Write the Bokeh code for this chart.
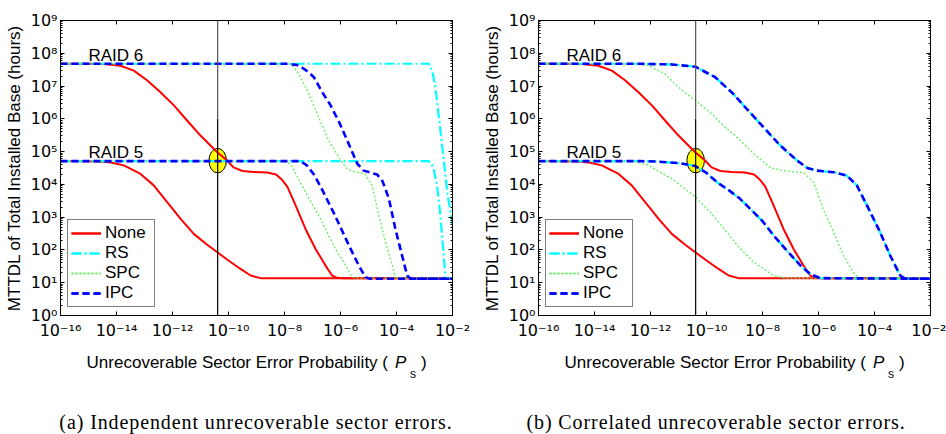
import numpy as np
from bokeh.plotting import figure
from bokeh.models import (Range1d, FixedTicker, LogAxis, Label, Legend,
                          LegendItem, CustomJSTickFormatter, Div)
from bokeh.layouts import row, column
from bokeh.embed import file_html
from bokeh.resources import INLINE

SANS = "Liberation Sans"
SERIF = "Liberation Serif"
TICK_FONT = "DejaVu Sans"

# ---- axes: decades ----
x_tick_powers = [-16, -14, -12, -10, -8, -6, -4, -2]
x_tick_labels = ["10\u207b\u00b9\u2076", "10\u207b\u00b9\u2074", "10\u207b\u00b9\u00b2",
                 "10\u207b\u00b9\u2070", "10\u207b\u2078", "10\u207b\u2076",
                 "10\u207b\u2074", "10\u207b\u00b2"]
y_tick_powers = [0, 1, 2, 3, 4, 5, 6, 7, 8, 9]
y_tick_labels = ["10\u2070", "10\u00b9", "10\u00b2", "10\u00b3", "10\u2074",
                 "10\u2075", "10\u2076", "10\u2077", "10\u2078", "10\u2079"]
x_limits = (1e-16, 1e-2)
y_limits = (1e0, 1e9)

# ---- operating point marked on both panels ----
ps_marked = 4.1e-11
mttdl_marked = 5.3e4

# ---- curves: log10(Ps) and log10(MTTDL in hours) ----
# no intra-disk redundancy (same in both panels)
none_r6_lp = [-16, -15.0, -14.45, -13.86, -13.38, -12.9, -12.43, -11.95, -11.48, -11.0,
              -10.52, -10.4, -10.05, -9.82, -9.5, -9.1, -8.62, -8.3, -8.1, -7.9, -7.65,
              -7.25, -6.89, -6.54, -6.3, -6.12, -5.9, -2]
none_r6_lm = [7.68, 7.68, 7.67, 7.62, 7.47, 7.17, 6.81, 6.41, 5.95, 5.49,
              5.08, 4.98, 4.73, 4.52, 4.41, 4.38, 4.36, 4.30, 4.15, 3.93, 3.45,
              2.64, 2.03, 1.53, 1.22, 1.15, 1.14, 1.14]
none_r5_lp = [-16, -14.6, -14.2, -13.74, -13.14, -12.67, -12.19, -11.71, -11.24, -10.76,
              -10.4, -10.05, -9.57, -9.21, -8.86, -2]
none_r5_lm = [4.71, 4.70, 4.67, 4.58, 4.32, 3.97, 3.46, 2.95, 2.49, 2.16,
              1.93, 1.71, 1.42, 1.22, 1.14, 1.14]

# (a) independent sector errors
rs_ind_r6_lp = [-16, -2.84, -2.72, -2.61, -2.52, -2.43, -2.31, -2.18, -2.0]
rs_ind_r6_lm = [7.68, 7.68, 7.45, 6.96, 6.30, 5.64, 4.73, 3.70, 2.80]
rs_ind_r5_lp = [-16, -2.86, -2.75, -2.67, -2.55, -2.45, -2.35, -2.25, -2.0]
rs_ind_r5_lm = [4.71, 4.71, 4.65, 4.45, 3.95, 3.20, 2.20, 1.14, 1.14]

spc_ind_r6_lp = [-16, -7.84, -7.7, -7.49, -7.13, -6.78, -6.42, -6.06, -5.82, -5.6, -5.3,
                 -5.11, -4.87, -4.63, -4.39, -4.15, -4.04, -3.9, -2]
spc_ind_r6_lm = [7.68, 7.68, 7.60, 7.37, 6.76, 6.05, 5.34, 4.83, 4.52, 4.40, 4.36,
                 4.30, 3.97, 3.05, 2.24, 1.53, 1.17, 1.14, 1.14]
spc_ind_r5_lp = [-16, -7.95, -7.73, -7.25, -6.65, -6.18, -5.82, -5.58, -5.45, -2]
spc_ind_r5_lm = [4.71, 4.71, 4.55, 3.76, 2.85, 2.03, 1.53, 1.17, 1.14, 1.14]

ipc_ind_r6_lp = [-16, -7.84, -7.49, -7.13, -6.95, -6.65, -6.36, -6.05, -5.76, -5.40, -5.17,
                 -4.9, -4.69, -4.5, -4.27, -4.04, -3.80, -3.62, -3.5, -2]
ipc_ind_r6_lm = [7.68, 7.68, 7.63, 7.42, 7.27, 6.81, 6.42, 5.90, 5.34, 4.63, 4.42,
                 4.35, 4.30, 4.10, 3.56, 2.64, 1.83, 1.22, 1.12, 1.12]
ipc_ind_r5_lp = [-16, -7.43, -7.2, -6.95, -6.68, -6.2, -5.70, -5.35, -5.11, -4.95, -2]
ipc_ind_r5_lm = [4.71, 4.71, 4.58, 4.30, 3.88, 3.06, 2.14, 1.53, 1.17, 1.12, 1.12]

# (b) correlated sector errors (RS and IPC coincide)
rs_cor_r6_lp = [-16, -12.43, -11.24, -10.4, -9.69, -9.04, -8.56, -7.96, -7.37, -6.77, -6.4,
                -6.06, -5.46, -4.99, -4.63, -4.27, -3.80, -3.44, -3.08, -2.9, -2]
rs_cor_r6_lm = [7.68, 7.68, 7.66, 7.59, 7.27, 6.76, 6.30, 5.74, 5.19, 4.73, 4.50,
                4.42, 4.37, 4.27, 3.97, 3.36, 2.54, 1.83, 1.22, 1.12, 1.12]
rs_cor_r5_lp = [-16, -12.4, -11.83, -11.0, -10.4, -10.0, -9.6, -9.2, -8.8, -8.4, -8.0,
                -7.6, -7.13, -6.65, -6.3, -5.94, -2]
rs_cor_r5_lm = [4.71, 4.71, 4.70, 4.65, 4.56, 4.35, 4.05, 3.82, 3.56, 3.22, 2.88,
                2.44, 1.98, 1.53, 1.27, 1.14, 1.12]
ipc_cor_r6_lp, ipc_cor_r6_lm = rs_cor_r6_lp, rs_cor_r6_lm
ipc_cor_r5_lp, ipc_cor_r5_lm = rs_cor_r5_lp, rs_cor_r5_lm

spc_cor_r6_lp = [-16, -12.6, -12.07, -11.48, -11.0, -10.4, -9.81, -9.33, -8.88, -8.31,
                 -7.71, -7.12, -6.53, -6.17, -5.81, -5.46, -5.11, -4.75, -4.57, -2]
spc_cor_r6_lm = [7.68, 7.68, 7.63, 7.37, 6.96, 6.56, 6.15, 5.74, 5.42, 4.93,
                 4.50, 4.40, 4.36, 4.05, 3.20, 2.54, 1.83, 1.32, 1.14, 1.14]
spc_cor_r5_lp = [-16, -12.6, -12.07, -11.24, -10.4, -9.81, -9.33, -8.86, -8.32, -7.61, -7.2, -2]
spc_cor_r5_lm = [4.71, 4.71, 4.58, 4.17, 3.62, 3.10, 2.60, 2.10, 1.63, 1.22, 1.14, 1.14]

series_names = ["None", "RS", "SPC", "IPC"]
line_styles = {
    "None": dict(line_color="#ff0000", line_width=2.0),
    "RS": dict(line_color="#00ffff", line_width=2.2, line_dash="10 3 2 3"),
    "SPC": dict(line_color="#5ef05e", line_width=1.3, line_dash="2 2"),
    "IPC": dict(line_color="#0000ff", line_width=2.6, line_dash="7 4"),
}

panel_a = {
    "None": [(none_r6_lp, none_r6_lm), (none_r5_lp, none_r5_lm)],
    "RS": [(rs_ind_r6_lp, rs_ind_r6_lm), (rs_ind_r5_lp, rs_ind_r5_lm)],
    "SPC": [(spc_ind_r6_lp, spc_ind_r6_lm), (spc_ind_r5_lp, spc_ind_r5_lm)],
    "IPC": [(ipc_ind_r6_lp, ipc_ind_r6_lm), (ipc_ind_r5_lp, ipc_ind_r5_lm)],
}
panel_b = {
    "None": [(none_r6_lp, none_r6_lm), (none_r5_lp, none_r5_lm)],
    "RS": [(rs_cor_r6_lp, rs_cor_r6_lm), (rs_cor_r5_lp, rs_cor_r5_lm)],
    "SPC": [(spc_cor_r6_lp, spc_cor_r6_lm), (spc_cor_r5_lp, spc_cor_r5_lm)],
    "IPC": [(ipc_cor_r6_lp, ipc_cor_r6_lm), (ipc_cor_r5_lp, ipc_cor_r5_lm)],
}

FIG_W = 473
FIG_H = 345
TEXT_H = 434 - FIG_H

LABEL_JS = """
const k = Math.round(Math.log10(tick));
const i = powers.indexOf(k);
return i >= 0 ? labels[i] : "";
"""


def style_axis(ax, ticker, powers=None, labels=None):
    ax.ticker = ticker
    if labels is None:
        ax.formatter = CustomJSTickFormatter(code="return ''")
        ax.major_label_text_font_size = "0px"
    else:
        ax.formatter = CustomJSTickFormatter(args=dict(powers=powers, labels=labels),
                                             code=LABEL_JS)
        ax.major_label_text_font = TICK_FONT
        ax.major_label_text_font_size = "16px"
        ax.major_label_text_color = "black"
    ax.major_tick_in = 4
    ax.major_tick_out = 0
    ax.minor_tick_in = 2
    ax.minor_tick_out = 0
    ax.axis_line_color = "black"
    ax.major_tick_line_color = "black"
    ax.minor_tick_line_color = "black"


def make_panel(curves, border_left, border_right):
    p = figure(width=FIG_W, height=FIG_H, x_axis_type="log", y_axis_type="log",
               x_range=Range1d(*x_limits), y_range=Range1d(*y_limits),
               output_backend="svg", toolbar_location=None,
               min_border_left=border_left, min_border_right=border_right,
               min_border_top=20, min_border_bottom=FIG_H - 315)
    p.grid.visible = False
    p.outline_line_color = "black"
    p.outline_line_width = 1

    xticker = FixedTicker(ticks=[10.0 ** k for k in x_tick_powers], minor_ticks=[])
    yticker = FixedTicker(ticks=[10.0 ** k for k in y_tick_powers],
                          minor_ticks=[m * 10.0 ** k for k in y_tick_powers[:-1]
                                       for m in range(2, 10)])
    style_axis(p.xaxis[0], xticker, x_tick_powers, x_tick_labels)
    style_axis(p.yaxis[0], yticker, y_tick_powers, y_tick_labels)
    p.xaxis[0].major_label_standoff = 5
    p.yaxis[0].major_label_standoff = 3
    p.yaxis[0].axis_label = "MTTDL of Total Installed Base (hours)"
    p.yaxis[0].axis_label_text_font = SANS
    p.yaxis[0].axis_label_text_font_size = "17px"
    p.yaxis[0].axis_label_text_font_style = "normal"
    p.yaxis[0].axis_label_text_color = "black"
    p.yaxis[0].axis_label_standoff = 4

    top = LogAxis()
    style_axis(top, xticker)
    p.add_layout(top, "above")
    right = LogAxis()
    style_axis(right, yticker)
    p.add_layout(right, "right")

    # highlighted operating point (drawn beneath the curves)
    p.ellipse(x=[ps_marked], y=[mttdl_marked], width=17.5, height=24.5,
              width_units="screen", height_units="screen",
              fill_color="#ffff00", line_color="black", line_width=1)

    renderers = {}
    for name in series_names:
        rs = []
        for lp, lm in curves[name]:
            rs.append(p.line(10.0 ** np.array(lp), 10.0 ** np.array(lm), **line_styles[name]))
        renderers[name] = rs

    # vertical reference line at the marked Ps
    p.line([ps_marked, ps_marked], [y_limits[0], 1e6], line_color="black", line_width=1.2)
    p.line([ps_marked, ps_marked], [1e6, y_limits[1]], line_color="#555555", line_width=1.2)

    legend = Legend(items=[LegendItem(label=n, renderers=renderers[n]) for n in series_names],
                    location=(7, 8), orientation="vertical",
                    border_line_color="black", border_line_width=1,
                    background_fill_color="white", background_fill_alpha=1,
                    label_text_font=SANS, label_text_font_size="17px",
                    label_text_color="black", label_text_line_height=1.0,
                    glyph_width=30, glyph_height=18, label_height=18, label_width=46,
                    spacing=0, padding=3, margin=0, label_standoff=4)
    p.add_layout(legend)

    # RAID level labels
    for txt, yv in (("RAID 6", 8.5e7), ("RAID 5", 9.4e4)):
        p.add_layout(Label(x=1e-15, y=yv, text=txt, text_font=SANS, text_color="black",
                           text_font_size="17px", text_baseline="alphabetic"))
    return p


def make_texts(frame_left, caption, caption_cx):
    paren_right = FIG_W - (frame_left + 328)
    html = (
        f'<div style="position:relative;width:{FIG_W}px;height:{TEXT_H}px;'
        f"font-family:'{SANS}';color:black;\">"
        f'<span style="position:absolute;right:{paren_right}px;top:9px;font-size:17px;'
        f'line-height:17px;white-space:nowrap;">Unrecoverable Sector Error Probability (</span>'
        f'<span style="position:absolute;left:{frame_left + 335}px;top:9px;font-size:17px;'
        f'line-height:17px;font-style:italic;">P</span>'
        f'<span style="position:absolute;left:{frame_left + 350}px;top:23px;font-size:12px;'
        f'line-height:12px;">s</span>'
        f'<span style="position:absolute;left:{frame_left + 361}px;top:9px;font-size:17px;'
        f'line-height:17px;">)</span>'
        f'<span style="position:absolute;left:{caption_cx}px;top:67px;transform:translateX(-50%);'
        f"font-family:'{SERIF}';font-size:20px;line-height:20px;letter-spacing:0.9px;"
        f'white-space:nowrap;">{caption}</span>'
        f'</div>'
    )
    return Div(text=html, width=FIG_W, height=TEXT_H, margin=0)


left_fig = make_panel(panel_a, 60, 21)
right_fig = make_panel(panel_b, 65, 16)
left_txt = make_texts(60, "(a) Independent unrecoverable sector errors.", 256)
right_txt = make_texts(65, "(b) Correlated unrecoverable sector errors.", 243)

layout = row(column(left_fig, left_txt, spacing=0),
             column(right_fig, right_txt, spacing=0), spacing=0)
open("out.html", "w").write(file_html(layout, INLINE))
